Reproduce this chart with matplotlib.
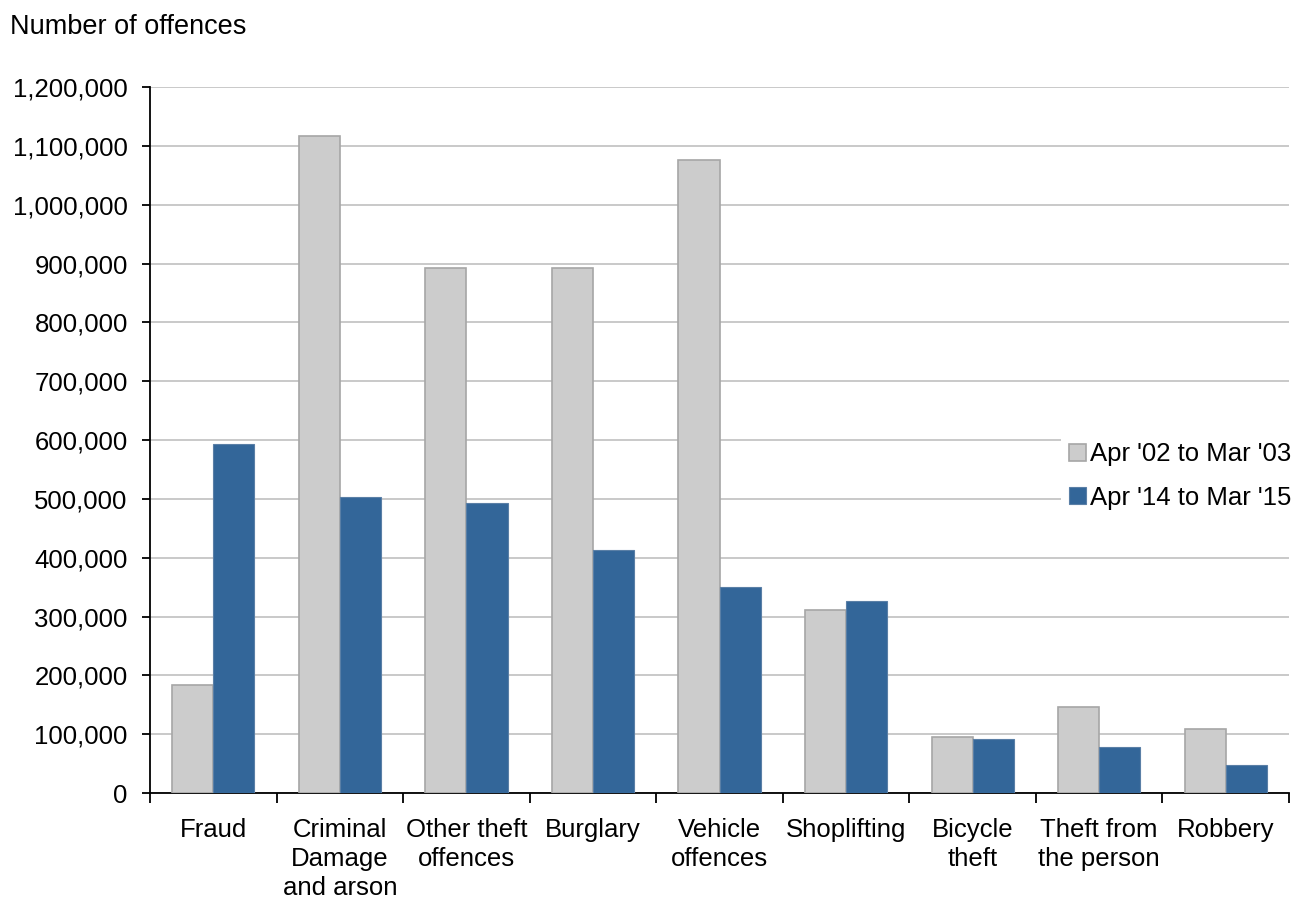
import numpy as np
import matplotlib.pyplot as plt
from matplotlib.ticker import FuncFormatter, MultipleLocator

plt.rcParams['font.family'] = ['Liberation Sans', 'DejaVu Sans']

categories = ["Fraud", "Criminal\nDamage\nand arson", "Other theft\noffences", "Burglary",
              "Vehicle\noffences", "Shoplifting", "Bicycle\ntheft", "Theft from\nthe person", "Robbery"]
apr02_mar03 = [184000, 1117000, 892000, 892000, 1076000, 311000, 95000, 146000, 109000]
apr14_mar15 = [593000, 503000, 493000, 413000, 350000, 326000, 92000, 78000, 48000]
series_labels = ["Apr '02 to Mar '03", "Apr '14 to Mar '15"]

fig = plt.figure(figsize=(13.03, 8.98), dpi=100)
ax = fig.add_axes([0.1151, 0.1169, 0.8742, 0.7862])

x = np.arange(len(categories))
w = 0.325
ax.bar(x - w / 2, apr02_mar03, w, color='#cccccc', edgecolor='#a6a6a6', linewidth=1.2,
       label=series_labels[0], zorder=3)
ax.bar(x + w / 2, apr14_mar15, w, color='#336699', edgecolor='#5a7fa6', linewidth=0.8,
       label=series_labels[1], zorder=3)

ax.set_xlim(-0.5, len(categories) - 0.5)
ax.set_ylim(0, 1200000)
ax.yaxis.set_major_locator(MultipleLocator(100000))
ax.yaxis.set_major_formatter(FuncFormatter(lambda v, p: f"{int(v):,}"))
ax.grid(axis='y', color='#c0c0c0', linewidth=1.2, zorder=0)

ax.set_xticks(x)
ax.set_xticklabels(categories, fontsize=18.5, linespacing=1.25, va='top')
ax.set_xticks(np.arange(-0.5, len(categories)), minor=True)
ax.tick_params(axis='x', which='major', length=0, pad=18)
ax.tick_params(axis='x', which='minor', length=7, width=1.3, direction='out', color='#000000')
ax.tick_params(axis='y', length=6, width=1.3, direction='out', labelsize=18.5, pad=10)

for s in ['top', 'right']:
    ax.spines[s].set_visible(False)
ax.spines['left'].set_linewidth(1.3)
ax.spines['bottom'].set_linewidth(1.3)

fig.text(0.008, 0.97, "Number of offences", fontsize=19.5, ha='left', va='center')

leg = ax.legend(loc='center left', bbox_to_anchor=(0.80, 0.449), fontsize=18.5, frameon=True,
                edgecolor='none', facecolor='white', framealpha=1, fancybox=False,
                handlelength=0.65, handleheight=0.65, handletextpad=0.15, labelspacing=0.75,
                borderpad=0.3, borderaxespad=0)
leg.set_zorder(5)

fig.savefig("out.png", dpi=100)
